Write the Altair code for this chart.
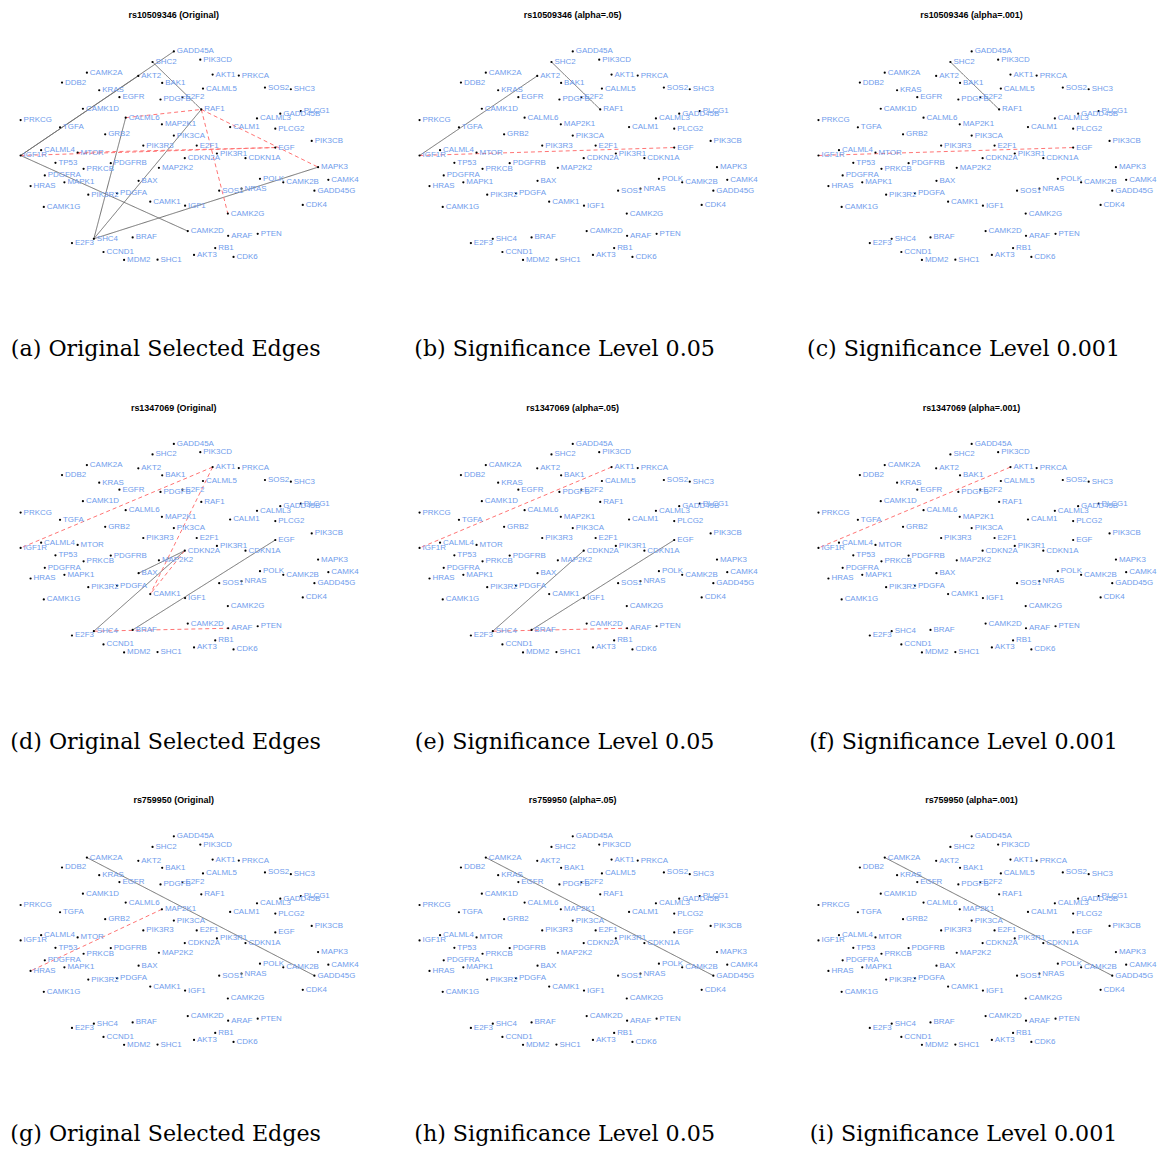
import altair as alt
import pandas as pd

# ---- node layout (same in every panel) ----
NODE_NAMES = ["GADD45A", "SHC2", "PIK3CD", "CAMK2A", "AKT2", "AKT1", "PRKCA", "DDB2", "BAK1",
              "CALML5", "SOS2", "SHC3", "KRAS", "EGFR", "PDGFB", "E2F2", "CAMK1D", "RAF1",
              "GADD45B", "PLCG1", "PRKCG", "CALML6", "MAP2K1", "CALML3", "TGFA", "CALM1",
              "PLCG2", "GRB2", "PIK3CA", "PIK3CB", "PIK3R3", "E2F1", "EGF", "CALML4", "MTOR",
              "IGF1R", "CDKN2A", "PIK3R1", "CDKN1A", "TP53", "PDGFRB", "PRKCB", "MAP2K2",
              "MAPK3", "PDGFRA", "POLK", "CAMK2B", "CAMK4", "BAX", "HRAS", "MAPK1", "SOS1",
              "NRAS", "GADD45G", "PIK3R2", "PDGFA", "CAMK1", "IGF1", "CDK4", "CAMK1G",
              "CAMK2G", "CAMK2D", "ARAF", "PTEN", "E2F3", "SHC4", "BRAF", "RB1", "CCND1",
              "AKT3", "CDK6", "MDM2", "SHC1"]
NODE_X = [166.7, 145.3, 193.3, 79.3, 131.0, 205.7, 232.0, 54.3, 155.0,
          196.0, 258.3, 284.3, 91.7, 112.0, 153.3, 175.3, 75.3, 194.3,
          273.7, 294.3, 12.7, 118.3, 154.7, 250.3, 52.3, 223.3,
          268.7, 97.7, 166.7, 305.3, 136.0, 189.7, 268.7, 33.3, 70.0,
          12.7, 177.7, 210.0, 238.7, 47.7, 103.3, 76.0, 151.7,
          311.7, 37.0, 253.3, 276.7, 322.0, 131.3, 22.7, 56.7, 212.3,
          234.7, 308.0, 80.7, 109.7, 143.0, 178.0, 296.3, 36.0,
          221.0, 180.7, 221.3, 251.0, 64.3, 86.3, 125.3, 208.3, 96.0,
          187.0, 226.7, 116.7, 150.3]
NODE_Y = [33.7, 44.3, 42.0, 55.0, 58.3, 57.0, 58.0, 65.0, 65.3,
          71.0, 70.0, 71.7, 72.7, 79.7, 82.0, 79.7, 91.3, 92.0,
          96.3, 93.7, 102.7, 100.3, 107.0, 101.0, 110.0, 109.7,
          111.3, 117.0, 118.3, 123.7, 128.3, 128.3, 130.3, 133.0, 135.3,
          138.3, 141.0, 136.3, 141.0, 145.7, 146.0, 151.7, 150.7,
          150.0, 158.3, 161.7, 165.3, 162.7, 163.7, 169.0, 165.3, 173.7,
          171.7, 173.7, 177.7, 176.3, 184.7, 188.7, 188.0, 190.0,
          196.7, 214.3, 219.0, 217.0, 226.3, 222.0, 220.7, 231.3, 235.3,
          238.3, 240.3, 243.3, 243.0]

# ---- panel texts ----
PANEL_TITLES = ["rs10509346 (Original)", "rs10509346 (alpha=.05)", "rs10509346 (alpha=.001)",
                "rs1347069 (Original)", "rs1347069 (alpha=.05)", "rs1347069 (alpha=.001)",
                "rs759950 (Original)", "rs759950 (alpha=.05)", "rs759950 (alpha=.001)"]
PANEL_CAPTIONS = ["(a) Original Selected Edges", "(b) Significance Level 0.05",
                  "(c) Significance Level 0.001", "(d) Original Selected Edges",
                  "(e) Significance Level 0.05", "(f) Significance Level 0.001",
                  "(g) Original Selected Edges", "(h) Significance Level 0.05",
                  "(i) Significance Level 0.001"]

# ---- edges per panel ----
SOLID_EDGES = [
    [("GADD45A", "IGF1R"), ("AKT2", "IGF1R"), ("SHC2", "RAF1"), ("RAF1", "SHC4"),
     ("IGF1R", "CAMK2D"), ("CALML6", "SHC4"), ("SHC4", "MAPK3")],
    [("AKT2", "IGF1R"), ("SHC2", "RAF1")],
    [("SHC2", "RAF1")],
    [("BAX", "CDKN2A"), ("SHC4", "CDKN2A"), ("BRAF", "EGF")],
    [("SHC4", "CDKN2A"), ("BRAF", "EGF")],
    [],
    [("CAMK2A", "GADD45G")],
    [("CAMK2A", "GADD45G")],
    [("CAMK2A", "GADD45G")],
]
DASHED_EDGES = [
    [("CALML6", "RAF1"), ("RAF1", "MAPK3"), ("RAF1", "CAMK2G"), ("IGF1R", "EGF"), ("MTOR", "EGF")],
    [("IGF1R", "EGF")],
    [("IGF1R", "EGF")],
    [("AKT1", "IGF1R"), ("AKT1", "CAMK1"), ("CDKN2A", "CAMK1"), ("SHC4", "ARAF")],
    [("AKT1", "IGF1R"), ("SHC4", "ARAF")],
    [("AKT1", "IGF1R")],
    [("MAP2K1", "HRAS")],
    [],
    [],
]

W, H = 356, 300

nodes = pd.DataFrame({"gene": NODE_NAMES, "x": NODE_X, "y": NODE_Y})
pos = {g: (x, y) for g, x, y in zip(NODE_NAMES, NODE_X, NODE_Y)}


def panel(i):
    rows = []
    for kind, lst in (("solid", SOLID_EDGES[i]), ("dashed", DASHED_EDGES[i])):
        for a, b in lst:
            rows.append({"x": pos[a][0], "y": pos[a][1], "x2": pos[b][0], "y2": pos[b][1], "kind": kind})
    edges = pd.DataFrame(rows, columns=["x", "y", "x2", "y2", "kind"])

    xs = alt.Scale(domain=[0, W], nice=False, zero=False)
    ys = alt.Scale(domain=[0, H], nice=False, zero=False, reverse=True)
    xaxis = alt.Axis(labels=False, ticks=False, domain=False, grid=False,
                     title=PANEL_CAPTIONS[i], titleFont="DejaVu Serif", titleFontSize=22.3,
                     titleFontWeight="normal", titleColor="black", titleX=158, titleY=39.5,
                     titleAlign="center", titleBaseline="alphabetic")

    rules = alt.Chart(edges).mark_rule(strokeWidth=1).encode(
        x=alt.X("x:Q", scale=xs, axis=xaxis),
        y=alt.Y("y:Q", scale=ys, axis=None),
        x2="x2:Q",
        y2="y2:Q",
        color=alt.Color("kind:N", scale=alt.Scale(domain=["solid", "dashed"],
                                                  range=["#6e6e6e", "#ff7373"]), legend=None),
        strokeDash=alt.StrokeDash("kind:N", scale=alt.Scale(domain=["solid", "dashed"],
                                                            range=[[1, 0], [4, 3]]), legend=None),
    )
    pts = alt.Chart(nodes).mark_circle(size=5, color="black", opacity=1).encode(
        x=alt.X("x:Q", scale=xs, axis=xaxis),
        y=alt.Y("y:Q", scale=ys, axis=None),
    )
    labels = alt.Chart(nodes).mark_text(align="left", baseline="middle", dx=3, fontSize=8,
                                        font="Liberation Sans", color="#6f9cec").encode(
        x=alt.X("x:Q", scale=xs, axis=xaxis),
        y=alt.Y("y:Q", scale=ys, axis=None),
        text="gene:N",
    )
    return alt.layer(rules, pts, labels).properties(
        width=W, height=H,
        title=alt.TitleParams(PANEL_TITLES[i], font="Liberation Sans", fontSize=9,
                              fontWeight="bold", color="black", anchor="middle", frame="group",
                              offset=0, dy=6.2, dx=-11.5, baseline="middle"),
    )


chart = alt.concat(*[panel(i) for i in range(9)], columns=3,
                   spacing={"row": 94.5, "column": 45}, bounds="flush", padding=0
                   ).configure_view(strokeWidth=0)

chart.save("out.html", embed_options={"renderer": "svg", "actions": False})
